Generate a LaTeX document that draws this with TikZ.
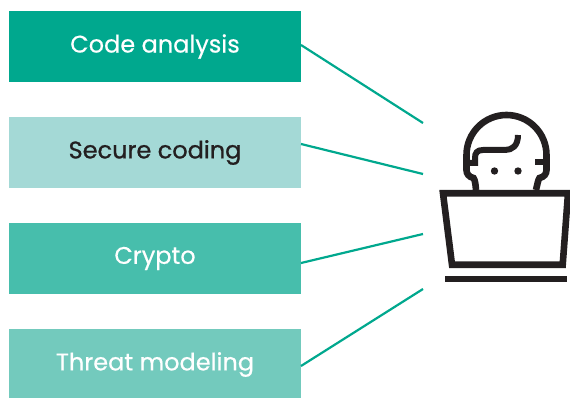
\documentclass[tikz,border=0pt]{standalone}
\usepackage{fontspec}
\setmainfont[FakeBold=0.45]{Poppins}
\newfontface\boldish[FakeBold=0.9]{Poppins}
\definecolor{gA}{HTML}{00A88E}
\definecolor{gB}{HTML}{A4D9D6}
\definecolor{gC}{HTML}{47BEAC}
\definecolor{gD}{HTML}{73CABD}
\definecolor{ink}{HTML}{231F20}
\newcommand\lbl[1]{\raisebox{-6.5pt}{#1}}
\tikzset{
  box/.style={minimum width=292pt,minimum height=71pt,inner sep=0pt,outer sep=0pt,anchor=north west,font=\fontsize{24}{27}\selectfont},
  link/.style={draw=gA,line width=2.2pt},
  icon/.style={draw=ink,line width=6.6pt,line join=miter,fill=none}
}
\begin{document}
\begin{tikzpicture}[x=1pt,y=-1pt]
\useasboundingbox (0,0) rectangle (570,398);
\node[box,fill=gA,text=white] (b1) at (9,11) {\lbl{Code analysis}};
\node[box,fill=gB,text=ink] (b2) at (9,117) {\lbl{\boldish Secure coding}};
\node[box,fill=gC,text=white] (b3) at (9,223) {\lbl{Crypto}};
\node[box,fill=gD,text=white] (b4) at (9,329) {\lbl{Threat modeling}};
\coordinate (e1) at (423,123);
\coordinate (e2) at (423,174);
\coordinate (e3) at (423,234);
\coordinate (e4) at (423,289);
\draw[link] (b1.north east |- 0,45) -- (e1);
\draw[link] (b2.north east |- 0,144) -- (e2);
\draw[link] (b3.north east |- 0,263) -- (e3);
\draw[link] (b4.north east |- 0,366) -- (e4);
% laptop
\draw[icon] (443,193.3) -- (568,193.3) -- (562.7,264.7) -- (452,264.7) -- cycle;
\fill[ink] (445.3,275.7) rectangle (567.3,282.3);
% head
\draw[icon] (476,190) .. controls (475.5,184) and (475,180) .. (473.5,178)
  .. controls (469,177) and (466.5,174) .. (466.5,170)
  -- (466.5,155) arc[start angle=180,end angle=360,radius=40] -- (546.5,170)
  .. controls (546.5,174) and (544,177) .. (539.5,178)
  .. controls (538,180) and (537.5,184) .. (536,190);
\draw[icon,line width=6pt] (518,135) .. controls (518,146) and (512,150) .. (505,150)
  -- (483,150) .. controls (477,150) and (475,153) .. (475,158) -- (475,163) -- (468,163);
\draw[icon,line width=6pt] (535,162.5) -- (546,162.5);
\fill[ink] (494.5,171) circle (3.7pt) (518,171) circle (3.7pt);
\end{tikzpicture}
\end{document}
